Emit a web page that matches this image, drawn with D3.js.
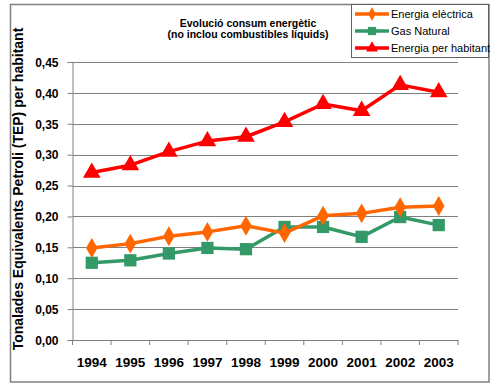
<!DOCTYPE html>
<html><head><meta charset="utf-8">
<script src="https://cdn.jsdelivr.net/npm/d3@7"></script>
<style>body{margin:0;background:#fff}svg{display:block;font-family:"Liberation Sans",Arial,sans-serif}</style>
</head><body>
<svg id="c" width="500" height="390"></svg>
<script>
const years = ["1994","1995","1996","1997","1998","1999","2000","2001","2002","2003"];
const energiaElectrica = [0.149,0.156,0.168,0.175,0.185,0.173,0.201,0.205,0.215,0.217];
const gasNatural = [0.125,0.129,0.140,0.149,0.147,0.183,0.183,0.167,0.199,0.186];
const energiaHabitant = [0.271,0.283,0.305,0.322,0.329,0.353,0.382,0.371,0.413,0.401];
const yTicks = [0,0.05,0.10,0.15,0.20,0.25,0.30,0.35,0.40,0.45];
const titleLines = ["Evolució consum energètic","(no inclou combustibles líquids)"];
const yTitle = "Tonalades Equivalents Petroli (TEP) per habitant";
const seriesNames = ["Energia elèctrica","Gas Natural","Energia per habitant"];
const colors = ["#FF6600","#339966","#FF0000"];
const markers = ["diamond","square","triangle"];

const svg = d3.select("#c");
const L=72.5, R=458, T=62, B=340;
const x = d3.scaleBand().domain(years).range([L,R]).padding(0);
const y = d3.scaleLinear().domain([0,0.45]).range([B,T]);
const fmt = d => d3.format(".2f")(d).replace(".",",");

// outer border
svg.append("rect").attr("x",10.5).attr("y",4.5).attr("width",478.5).attr("height",377.5)
  .attr("fill","none").attr("stroke","#808080").attr("stroke-width",1.5);

// gridlines
svg.append("g").selectAll("line").data(yTicks.filter(d=>d>0)).join("line")
  .attr("x1",L).attr("x2",R).attr("y1",d=>Math.round(y(d))+0.5).attr("y2",d=>Math.round(y(d))+0.5)
  .attr("stroke","#808080").attr("stroke-width",1);

// y axis
const ya = svg.append("g").attr("transform",`translate(${L},0)`)
  .call(d3.axisLeft(y).tickValues(yTicks).tickFormat(fmt).tickSize(5).tickPadding(9));
ya.select(".domain").attr("stroke","#808080");
ya.selectAll(".tick line").attr("stroke","#808080");
ya.selectAll(".tick text").attr("font-size","12px").attr("font-weight","bold").attr("fill","#000")
  .attr("font-family","Liberation Sans, Arial, sans-serif").attr("dy","0.36em");

// x axis
const xa = svg.append("g").attr("transform",`translate(0,${B})`)
  .call(d3.axisBottom(x).tickSize(0).tickPadding(17));
xa.select(".domain").attr("stroke","#808080");
xa.selectAll(".tick text").attr("font-size","13.5px").attr("font-weight","bold").attr("fill","#000")
  .attr("font-family","Liberation Sans, Arial, sans-serif");
const bounds = years.map(d=>x(d)).concat([R]);
xa.selectAll("line.bt").data(bounds).join("line").attr("class","bt")
  .attr("x1",d=>d).attr("x2",d=>d).attr("y1",0).attr("y2",5).attr("stroke","#808080");

// series
const all = [energiaElectrica, gasNatural, energiaHabitant];
const cx = d => x(d)+x.bandwidth()/2;
const symType = {diamond:d3.symbolDiamond, square:d3.symbolSquare, triangle:d3.symbolTriangle};
const symSize = {diamond:115, square:150, triangle:135};
const line = d3.line().x((d,i)=>cx(years[i])).y(d=>y(d));
[1,0,2].forEach(k=>{
  const g = svg.append("g");
  g.append("path").datum(all[k]).attr("d",line).attr("fill","none")
    .attr("stroke",colors[k]).attr("stroke-width",3.5).attr("stroke-linejoin","round");
  g.selectAll("path.m").data(all[k]).join("path").attr("class","m")
    .attr("transform",(d,i)=>`translate(${cx(years[i])},${y(d)})`)
    .attr("d",d3.symbol().type(symType[markers[k]]).size(symSize[markers[k]]))
    .attr("fill",colors[k]);
});

// title
svg.append("g").selectAll("text").data(titleLines).join("text")
  .attr("x",248).attr("y",(d,i)=>26.5+i*11).attr("text-anchor","middle")
  .attr("font-size","10.5px").attr("font-weight","bold").text(d=>d);

// y title
svg.append("text").attr("transform","translate(23,189) rotate(-90)").attr("text-anchor","middle")
  .attr("font-size","14px").attr("font-weight","bold").text(yTitle);

// legend
const lg = svg.append("g");
lg.append("rect").attr("x",351.5).attr("y",4.5).attr("width",137).attr("height",53)
  .attr("fill","#fff").attr("stroke","#606060").attr("stroke-width",1);
seriesNames.forEach((n,k)=>{
  const yy = 14+k*17;
  lg.append("line").attr("x1",355).attr("x2",389).attr("y1",yy).attr("y2",yy)
    .attr("stroke",colors[k]).attr("stroke-width",3.5);
  lg.append("path").attr("transform",`translate(372,${yy})`)
    .attr("d",d3.symbol().type(symType[markers[k]]).size(symSize[markers[k]]*0.45)).attr("fill",colors[k]);
  lg.append("text").attr("x",391).attr("y",yy+4).attr("font-size","11px").text(n);
});
</script>
</body></html>
